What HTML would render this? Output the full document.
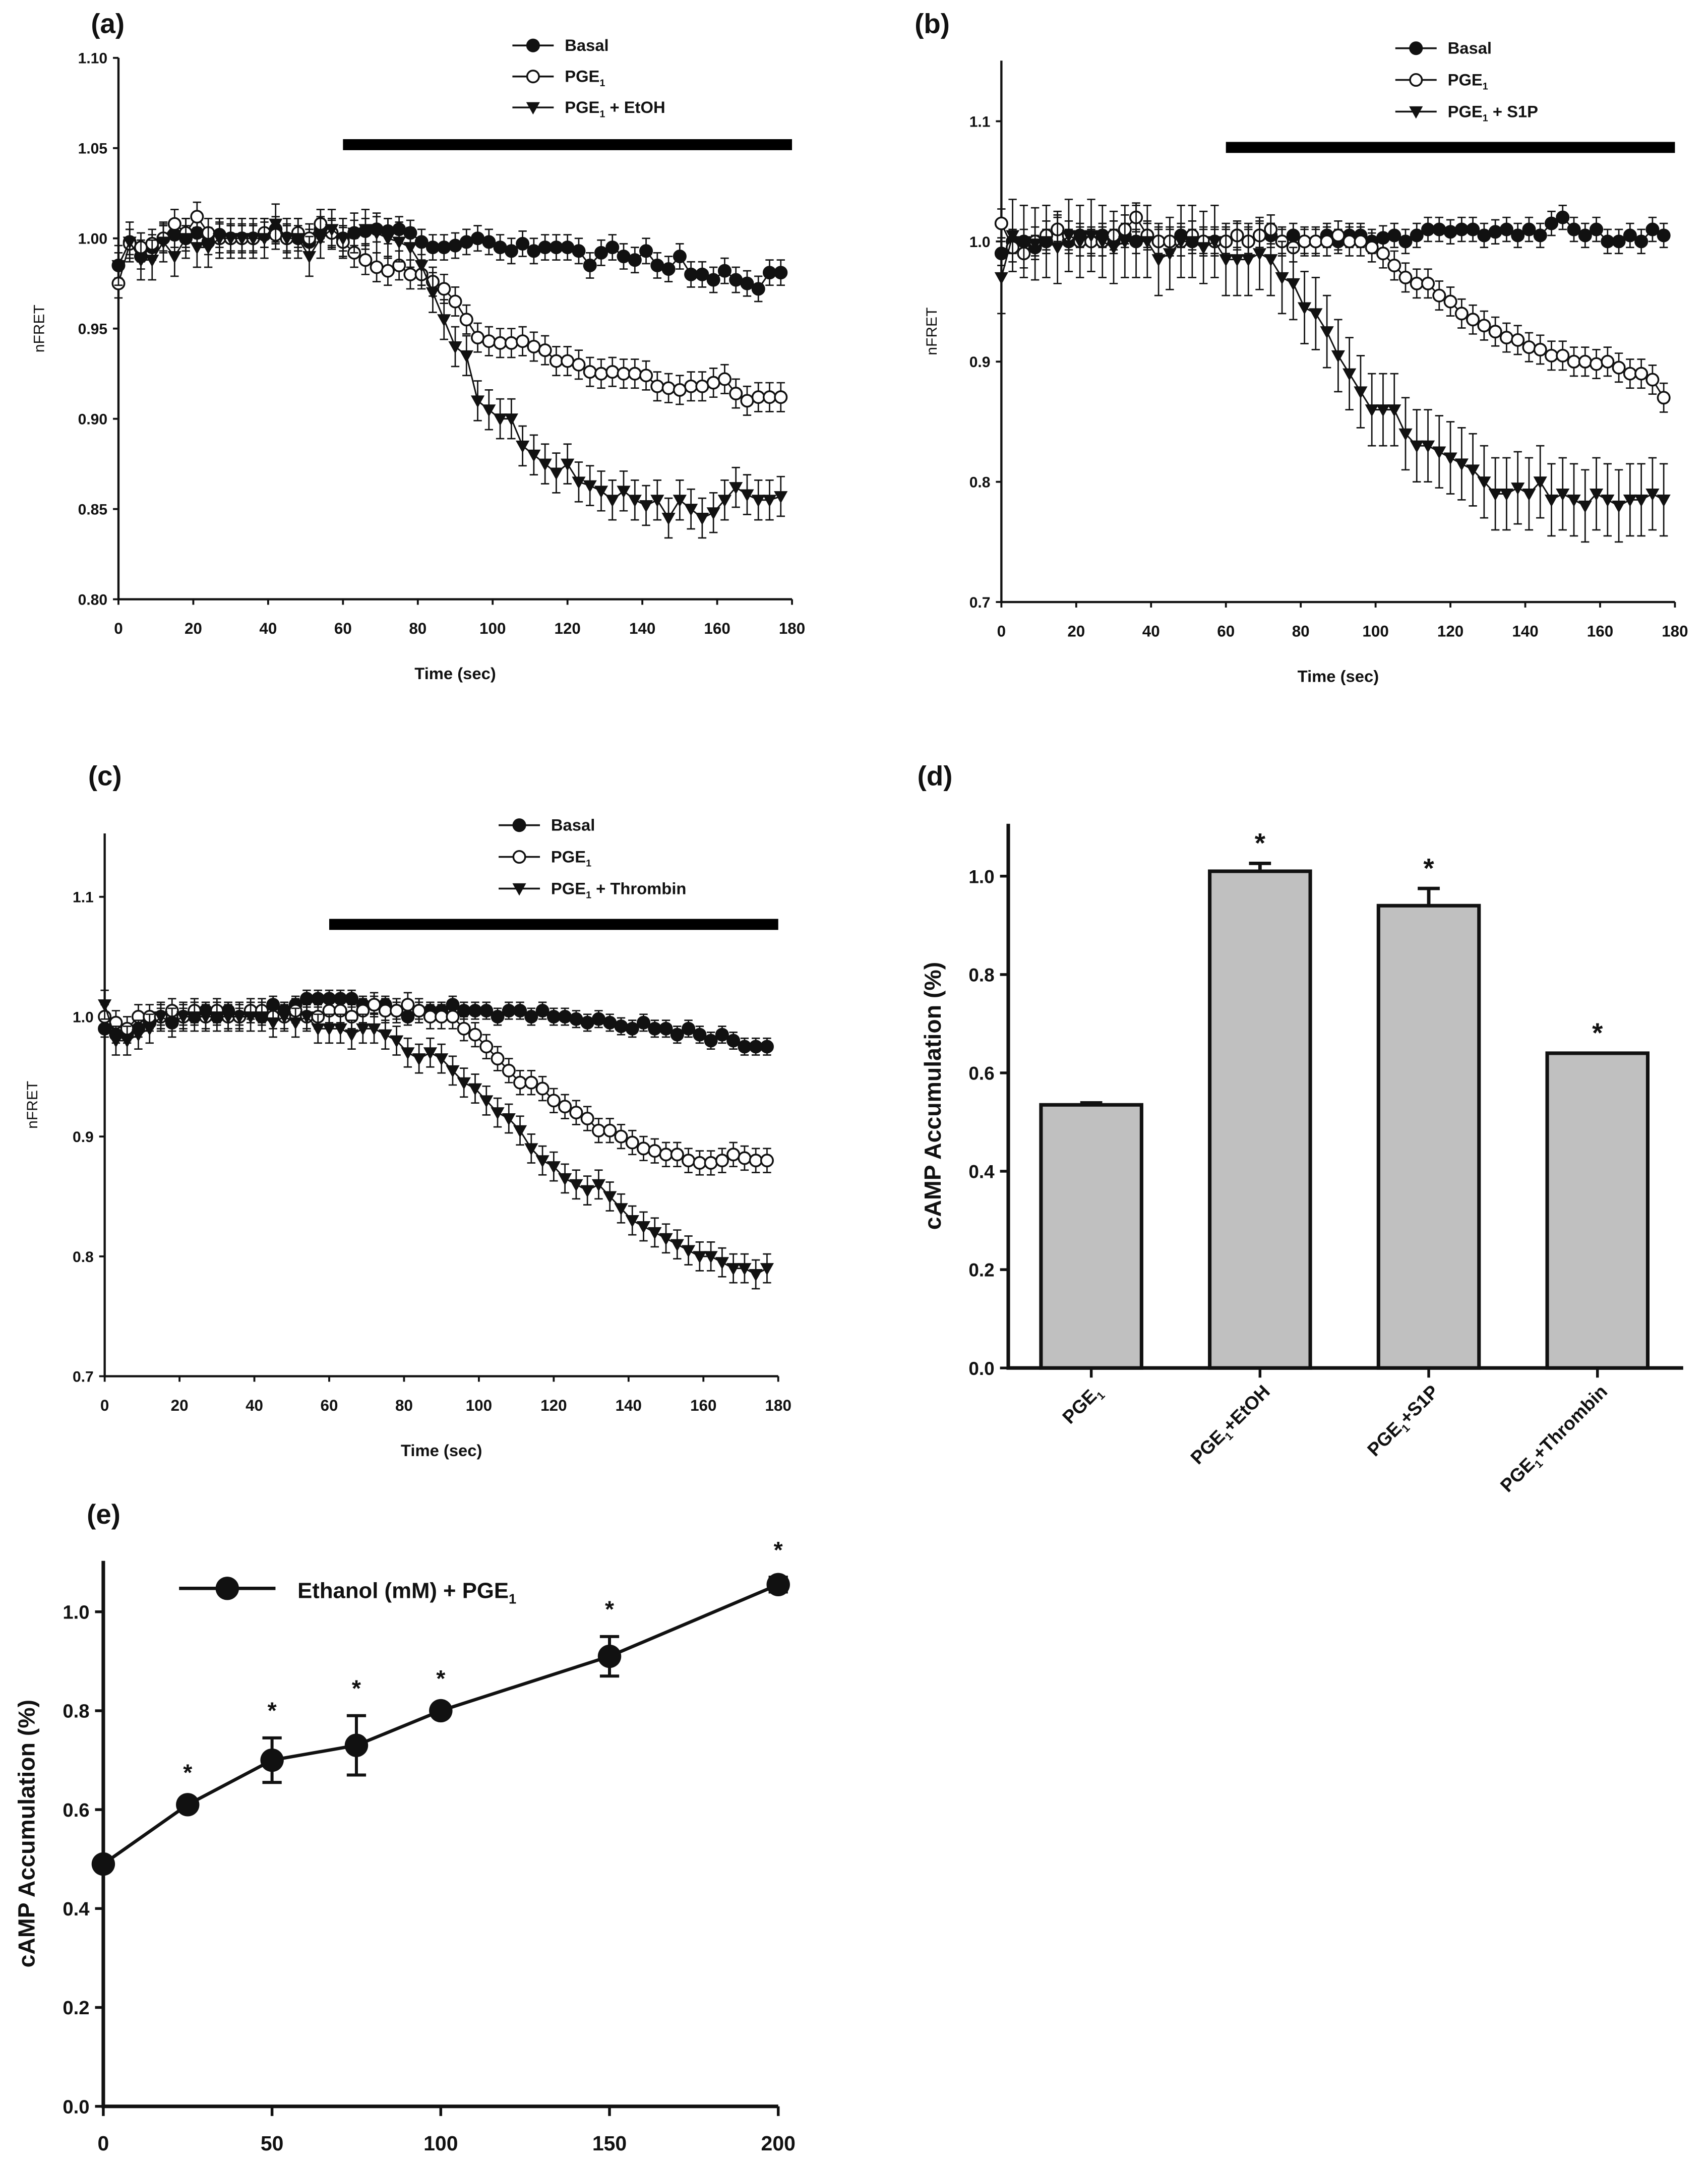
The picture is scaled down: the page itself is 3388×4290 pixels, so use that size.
<!DOCTYPE html>
<html><head><meta charset="utf-8"><style>
html,body{margin:0;padding:0;background:#fff}
svg{display:block}
text{font-family:"Liberation Sans",Arial,sans-serif;fill:#111}
</style></head><body>
<svg id="fig" xmlns="http://www.w3.org/2000/svg" width="3388" height="4290" viewBox="0 0 1240 1570.1">
<rect x="0" y="0" width="1240" height="1570.1" fill="#fff"/>
</svg>
<script>
// ---------- data ----------
const timeStart = 0, timeStep = 3;
const aBasal=[0.985,0.998,0.99,0.995,1.0,1.002,1.0,1.003,0.998,1.002,1.0,1.0,1.0,1.002,1.005,1.0,1.0,0.998,1.005,1.003,1.0,1.003,1.004,1.005,1.004,1.005,1.003,0.998,0.995,0.995,0.996,0.998,1.0,0.998,0.995,0.993,0.997,0.993,0.995,0.995,0.995,0.993,0.985,0.992,0.995,0.99,0.988,0.993,0.985,0.983,0.99,0.98,0.98,0.977,0.982,0.977,0.975,0.972,0.981,0.981];
const aPGE=[0.975,0.997,0.995,0.997,1.0,1.008,1.003,1.012,1.003,1.0,1.0,1.0,1.0,1.003,1.002,1.0,1.003,1.0,1.008,1.003,0.998,0.992,0.988,0.984,0.982,0.985,0.98,0.98,0.976,0.972,0.965,0.955,0.945,0.943,0.942,0.942,0.943,0.94,0.938,0.932,0.932,0.93,0.926,0.925,0.926,0.925,0.925,0.924,0.918,0.917,0.916,0.918,0.918,0.92,0.922,0.914,0.91,0.912,0.912,0.912];
const aTreat=[0.985,0.998,0.988,0.988,0.998,0.99,1.0,0.995,0.995,1.0,1.0,1.0,1.0,1.0,1.008,1.0,1.0,0.99,1.0,1.005,1.0,1.003,1.005,1.003,1.0,0.998,0.995,0.985,0.97,0.955,0.94,0.935,0.91,0.905,0.9,0.9,0.885,0.88,0.875,0.87,0.875,0.865,0.863,0.86,0.855,0.86,0.855,0.852,0.855,0.845,0.855,0.85,0.845,0.848,0.855,0.862,0.858,0.855,0.855,0.857];
const aErr=[0.007,0.008,0.011];
const bBasal=[0.99,1.0,1.0,0.995,1.0,1.01,1.0,1.005,1.0,1.005,1.0,1.005,1.0,1.005,1.0,1.0,1.005,1.0,1.0,1.0,1.0,1.005,1.0,1.005,1.005,1.0,1.005,1.0,1.0,1.005,1.0,1.005,1.005,1.0,1.003,1.005,1.0,1.005,1.01,1.01,1.008,1.01,1.01,1.005,1.008,1.01,1.005,1.01,1.005,1.015,1.02,1.01,1.005,1.01,1.0,1.0,1.005,1.0,1.01,1.005];
const bPGE=[1.015,0.995,0.99,1.0,1.005,1.01,1.005,1.0,1.0,1.0,1.005,1.01,1.02,1.005,1.0,1.0,1.0,1.005,1.0,1.0,1.0,1.005,1.0,1.005,1.01,1.0,0.995,1.0,1.0,1.0,1.005,1.0,1.0,0.995,0.99,0.98,0.97,0.965,0.965,0.955,0.95,0.94,0.935,0.93,0.925,0.92,0.918,0.912,0.91,0.905,0.905,0.9,0.9,0.898,0.9,0.895,0.89,0.89,0.885,0.87];
const bTreat=[0.97,1.005,1.0,0.998,1.0,0.995,1.005,1.0,1.005,1.0,0.995,1.0,1.0,1.0,0.985,0.99,1.0,1.0,0.995,1.0,0.985,0.985,0.985,0.99,0.985,0.97,0.965,0.945,0.94,0.925,0.905,0.89,0.875,0.86,0.86,0.86,0.84,0.83,0.83,0.825,0.82,0.815,0.81,0.8,0.79,0.79,0.795,0.79,0.8,0.785,0.79,0.785,0.78,0.79,0.785,0.78,0.785,0.785,0.79,0.785];
const bErr=[0.01,0.012,0.03];
const cBasal=[0.99,0.985,0.985,0.99,0.995,1.0,0.995,1.0,1.0,1.005,1.0,1.005,1.0,1.005,1.0,1.01,1.005,1.01,1.015,1.015,1.015,1.015,1.015,1.01,1.01,1.01,1.005,1.0,1.005,1.005,1.005,1.01,1.005,1.005,1.005,1.0,1.005,1.005,1.0,1.005,1.0,1.0,0.998,0.995,0.998,0.995,0.992,0.99,0.995,0.99,0.99,0.985,0.99,0.985,0.98,0.985,0.98,0.975,0.975,0.975];
const cPGE=[1.0,0.995,0.99,1.0,1.0,1.0,1.005,1.0,1.005,1.0,1.005,1.0,1.0,1.005,1.005,1.0,1.0,1.005,1.0,1.0,1.005,1.005,1.0,1.005,1.01,1.005,1.005,1.01,1.005,1.0,1.0,1.0,0.99,0.985,0.975,0.965,0.955,0.945,0.945,0.94,0.93,0.925,0.92,0.915,0.905,0.905,0.9,0.895,0.89,0.888,0.885,0.885,0.88,0.878,0.878,0.88,0.885,0.882,0.88,0.88];
const cTreat=[1.01,0.98,0.98,0.985,0.99,1.0,0.995,1.0,1.0,1.0,1.0,1.0,1.0,1.0,1.0,0.995,1.0,0.995,1.0,0.99,0.99,0.99,0.985,0.99,0.99,0.985,0.98,0.97,0.965,0.97,0.965,0.955,0.945,0.94,0.93,0.92,0.915,0.905,0.89,0.88,0.875,0.865,0.86,0.855,0.86,0.85,0.84,0.83,0.825,0.82,0.815,0.81,0.805,0.8,0.8,0.795,0.79,0.79,0.785,0.79];
const cErr=[0.007,0.01,0.012];
const timeTicks=[0,20,40,60,80,100,120,140,160,180];
const aYTicks=[0.80,0.85,0.90,0.95,1.00,1.05,1.10];
const bcYTicks=[0.7,0.8,0.9,1.0,1.1];
const dCategories=["PGE1","PGE1+EtOH","PGE1+S1P","PGE1+Thrombin"];
const dValues=[0.535,1.01,0.94,0.64];
const dErrors=[0.004,0.016,0.035,0];
const dYTicks=[0.0,0.2,0.4,0.6,0.8,1.0];
const eDose=[0,25,50,75,100,150,200];
const eValues=[0.49,0.61,0.70,0.73,0.80,0.91,1.055];
const eErrors=[0.01,0.01,0.045,0.06,0.01,0.04,0.015];
const eXTicks=[0,50,100,150,200];
const eYTicks=[0.0,0.2,0.4,0.6,0.8,1.0];

// ---------- helpers ----------
const NS="http://www.w3.org/2000/svg";
const svg=document.getElementById('fig');
function el(tag,attrs,parent){const e=document.createElementNS(NS,tag);for(const k in attrs)e.setAttribute(k,attrs[k]);(parent||svg).appendChild(e);return e;}
function txt(s,attrs,parent){const e=el('text',attrs,parent);e.textContent=s;return e;}
function pgeText(parent,x,y,size,suffix,anchor,extra){
  const t=el('text',Object.assign({x:x,y:y,'font-size':size,'font-weight':'bold','text-anchor':anchor||'start'},extra||{}),parent);
  const a=document.createElementNS(NS,'tspan');a.textContent='PGE';t.appendChild(a);
  const b=document.createElementNS(NS,'tspan');b.textContent='1';b.setAttribute('font-size',size*0.6);b.setAttribute('dy',size*0.25);t.appendChild(b);
  const c=document.createElementNS(NS,'tspan');c.textContent=suffix;c.setAttribute('dy',-size*0.25);t.appendChild(c);
  return t;
}
function marker(g,kind,x,y,r){
  let m;
  if(kind==='tri'){m=el('path',{d:`M${x-r},${y-r*0.8} L${x+r},${y-r*0.8} L${x},${y+r} Z`,fill:'#111',stroke:'#111','stroke-width':0.8},g);}
  else m=el('circle',{cx:x,cy:y,r:r,fill:kind==='open'?'#fff':'#111',stroke:'#111','stroke-width':1.3},g);
  return m;
}

// ---------- time-course panels ----------
function timePanel(cfg){
  const g=el('g',{});
  
  
  const X=v=>cfg.x0+(v-0)/180*(cfg.x1-cfg.x0);
  const Y=v=>cfg.yb+(v-cfg.ymin)/(cfg.ymax-cfg.ymin)*(cfg.yt-cfg.yb);
  // axes
  const ax=el('path',{d:`M${cfg.x0},${cfg.ytop} V${cfg.yb} H${cfg.x1}`,fill:'none',stroke:'#111','stroke-width':1.6},g);
  
  
  cfg.yticks.forEach(v=>{
    el('line',{x1:cfg.x0-4,x2:cfg.x0,y1:Y(v),y2:Y(v),stroke:'#111','stroke-width':1.4},g);
    const t=txt(v.toFixed(cfg.dec),{x:cfg.x0-8,y:Y(v)+4,'font-size':11,'font-weight':'bold','text-anchor':'end'},g);
    
    
  });
  timeTicks.forEach(v=>{
    el('line',{x1:X(v),x2:X(v),y1:cfg.yb,y2:cfg.yb+4,stroke:'#111','stroke-width':1.4},g);
    const t=txt(String(v),{x:X(v),y:cfg.yb+25,'font-size':11.5,'font-weight':'bold','text-anchor':'middle'},g);
    
    
  });
  const xt=txt('Time (sec)',{x:(cfg.x0+cfg.x1)/2,y:cfg.yb+58,'font-size':12,'font-weight':'bold','text-anchor':'middle'},g);
  
  
  const yt=txt('nFRET',{x:0,y:0,'font-size':11,'text-anchor':'middle',transform:`translate(${cfg.ylabX},${(cfg.ytop+cfg.yb)/2}) rotate(-90)`},g);
  
  
  const pl=txt(cfg.label,{x:cfg.labX,y:cfg.labY,'font-size':20,'font-weight':'bold'},g);
  
  
  // treatment bar
  const bar=el('rect',{x:X(60),y:cfg.barY-4,width:X(180)-X(60),height:8,fill:'#000'},g);
  
  
  // series
  const series=[[cfg.basal,'filled',cfg.err[0]],[cfg.pge,'open',cfg.err[1]],[cfg.treat,'tri',cfg.err[2]]];
  series.forEach((s,si)=>{
    const sg=el('g',{},g);
    
    
    const pts=s[0].map((v,i)=>[X(timeStart+i*timeStep),Y(v)]);
    el('polyline',{points:pts.map(p=>p.join(',')).join(' '),fill:'none',stroke:'#111','stroke-width':1.1},sg);
    s[0].forEach((v,i)=>{
      const x=X(timeStart+i*timeStep);
      const e=Math.abs(Y(v+s[2])-Y(v));
      el('path',{d:`M${x},${Y(v)-e} V${Y(v)+e} M${x-3},${Y(v)-e} H${x+3} M${x-3},${Y(v)+e} H${x+3}`,stroke:'#111','stroke-width':1,fill:'none'},sg);
    });
    s[0].forEach((v,i)=>{
      const m=marker(sg,s[1],X(timeStart+i*timeStep),Y(v),4.3);
      
      
    });
  });
  // legend
  const lg=el('g',{},g);
  
  
  const kinds=['filled','open','tri'];
  kinds.forEach((k,i)=>{
    const y=cfg.legY+i*cfg.legDy;
    el('line',{x1:cfg.legX,x2:cfg.legX+30,y1:y,y2:y,stroke:'#111','stroke-width':1.3},lg);
    marker(lg,k,cfg.legX+15,y,4.3);
    let t;
    if(i===0) t=txt('Basal',{x:cfg.legX+38,y:y+4,'font-size':12,'font-weight':'bold'},lg);
    else t=pgeText(lg,cfg.legX+38,y+4,12,i===1?'':cfg.treatLabel);
    
    
  });
}
timePanel({name:'panel-a',label:'(a)',labX:66,labY:24,x0:86,x1:575,yb:435,yt:42,ytop:42,ymin:0.80,ymax:1.10,yticks:aYTicks,dec:2,
  basal:aBasal,pge:aPGE,treat:aTreat,err:aErr,barY:105,legX:372,legY:33,legDy:22.5,treatLabel:' + EtOH',ylabX:32});
timePanel({name:'panel-b',label:'(b)',labX:664,labY:24,x0:727,x1:1216,yb:437,yt:88,ytop:44,ymin:0.7,ymax:1.1,yticks:bcYTicks,dec:1,
  basal:bTreat===null?[]:bBasal,pge:bPGE,treat:bTreat,err:bErr,barY:107,legX:1013,legY:35,legDy:23,treatLabel:' + S1P',ylabX:680});
timePanel({name:'panel-c',label:'(c)',labX:64,labY:570,x0:76,x1:565,yb:999,yt:651,ytop:605,ymin:0.7,ymax:1.1,yticks:bcYTicks,dec:1,
  basal:cBasal,pge:cPGE,treat:cTreat,err:cErr,barY:671,legX:362,legY:599,legDy:23,treatLabel:' + Thrombin',ylabX:27});

// ---------- panel d ----------
(function(){
  const g=el('g',{});
  
  
  const x0=732,x1=1222,yb=993,yt=636,ytop=598;
  const Y=v=>yb+v*(yt-yb);
  const bw=(x1-x0)/dCategories.length;
  const XC=i=>x0+bw*(i+0.5)-1;
  const ax=el('path',{d:`M${x0},${ytop} V${yb} H${x1}`,fill:'none',stroke:'#111','stroke-width':2.6},g);
  
  
  dYTicks.forEach(v=>{
    el('line',{x1:x0-6,x2:x0,y1:Y(v),y2:Y(v),stroke:'#111','stroke-width':2},g);
    const t=txt(v.toFixed(1),{x:x0-10,y:Y(v)+5,'font-size':13.5,'font-weight':'bold','text-anchor':'end'},g);
    
    
  });
  const yt2=txt('cAMP Accumulation (%)',{x:0,y:0,'font-size':17,'font-weight':'bold','text-anchor':'middle',transform:`translate(683,${(ytop+yb)/2}) rotate(-90)`},g);
  
  
  const pl=txt('(d)',{x:666,y:570,'font-size':20,'font-weight':'bold'},g);
  
  
  const suf=['','+EtOH','+S1P','+Thrombin'];
  dValues.forEach((v,i)=>{
    const xc=XC(i),w=73;
    if(dErrors[i]>0){
      el('path',{d:`M${xc},${Y(v)} V${Y(v+dErrors[i])} M${xc-8},${Y(v+dErrors[i])} H${xc+8}`,stroke:'#111','stroke-width':2.5,fill:'none'},g);
    }
    const b=el('rect',{x:xc-w/2,y:Y(v),width:w,height:yb-Y(v),fill:'#c0c0c0',stroke:'#111','stroke-width':2.6},g);
    
    
    if(i>0){
      const s=txt('*',{x:xc,y:Y(v+dErrors[i])-8,'font-size':20,'font-weight':'bold','text-anchor':'middle'},g);
      
      
    }
    el('line',{x1:xc,x2:xc,y1:yb,y2:yb+7,stroke:'#111','stroke-width':2},g);
    const t=pgeText(g,0,0,13.5,suf[i],'end',{transform:`translate(${xc+8},${yb+18}) rotate(-45)`});
    
    
  });
})();

// ---------- panel e ----------
(function(){
  const g=el('g',{});
  
  
  const x0=75,x1=565,yb=1529,yt=1170,ytop=1133;
  const X=v=>x0+v/200*(x1-x0);
  const Y=v=>yb+v*(yt-yb);
  const ax=el('path',{d:`M${x0},${ytop} V${yb} H${x1}`,fill:'none',stroke:'#111','stroke-width':2.6},g);
  
  
  eYTicks.forEach(v=>{
    el('line',{x1:x0-6,x2:x0,y1:Y(v),y2:Y(v),stroke:'#111','stroke-width':2},g);
    const t=txt(v.toFixed(1),{x:x0-10,y:Y(v)+5,'font-size':14,'font-weight':'bold','text-anchor':'end'},g);
    
    
  });
  eXTicks.forEach(v=>{
    el('line',{x1:X(v),x2:X(v),y1:yb,y2:yb+7,stroke:'#111','stroke-width':2},g);
    const t=txt(String(v),{x:X(v),y:yb+32,'font-size':15,'font-weight':'bold','text-anchor':'middle'},g);
    
    
  });
  const yt3=txt('cAMP Accumulation (%)',{x:0,y:0,'font-size':17,'font-weight':'bold','text-anchor':'middle',transform:`translate(25,${(ytop+yb)/2}) rotate(-90)`},g);
  
  
  const pl=txt('(e)',{x:63,y:1106,'font-size':20,'font-weight':'bold'},g);
  
  
  el('polyline',{points:eDose.map((d,i)=>X(d)+','+Y(eValues[i])).join(' '),fill:'none',stroke:'#111','stroke-width':2.4},g);
  eDose.forEach((d,i)=>{
    const x=X(d),y=Y(eValues[i]),e=eErrors[i]*(yb-yt);
    el('path',{d:`M${x},${y-e} V${y+e} M${x-7},${y-e} H${x+7} M${x-7},${y+e} H${x+7}`,stroke:'#111','stroke-width':2.2,fill:'none'},g);
    const c=el('circle',{cx:x,cy:y,r:8.5,fill:'#111'},g);
    
    
    if(i>0){
      const s=txt('*',{x:x,y:y-e-14,'font-size':17,'font-weight':'bold','text-anchor':'middle'},g);
      
      
    }
  });
  const lg=el('g',{},g);
  
  
  el('line',{x1:130,x2:200,y1:1153,y2:1153,stroke:'#111','stroke-width':2.4},lg);
  el('circle',{cx:165,cy:1153,r:8.5,fill:'#111'},lg);
  const lt=el('text',{x:216,y:1160,'font-size':16,'font-weight':'bold'},lg);
  
  
  const a=document.createElementNS(NS,'tspan');a.textContent='Ethanol (mM) + PGE';lt.appendChild(a);
  const b=document.createElementNS(NS,'tspan');b.textContent='1';b.setAttribute('font-size',10);b.setAttribute('dy',4);lt.appendChild(b);
})();
</script>
</body></html>
